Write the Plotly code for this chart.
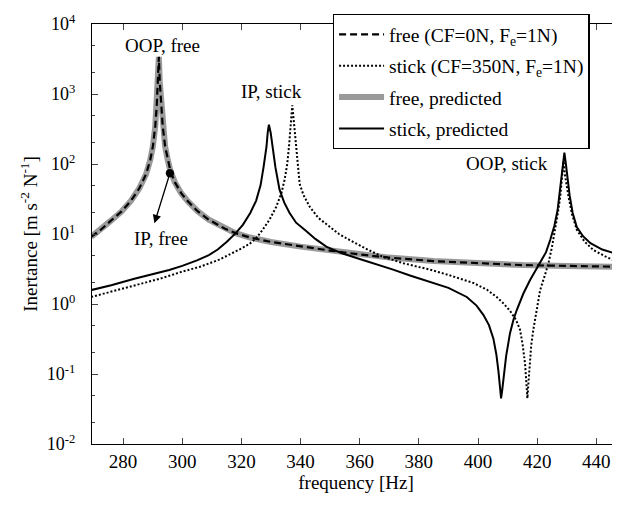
import plotly.graph_objects as go

# ---- data ----
free_f = [269.2, 272.5, 275.9, 279.5, 282.7, 285.5, 287.8, 289.2, 290.1, 290.9, 291.4, 291.8, 292.1,
          292.4, 292.9, 293.4, 294.2, 295.1, 296.0, 297.5, 299.7, 302.0, 305.3, 309.0, 314.3, 318.0,
          323.0, 330.0, 340.0, 350.0, 360.0, 370.0, 385.0, 400.0, 415.0, 430.0, 448.0]
free_v = [9.1, 11.5, 15.5, 21, 30, 45, 72, 115, 180, 350, 700, 1500, 3400,
          1500, 700, 350, 180, 115, 80, 55, 38, 29, 21, 16, 12, 10.3,
          8.9, 7.7, 6.6, 5.8, 5.1, 4.6, 4.1, 3.8, 3.6, 3.5, 3.4]

stick_pred_f = [269.2, 276.0, 283.8, 290.0, 295.6, 300.0, 305.0, 309.0, 312.0, 315.0, 318.0, 320.5,
                323.0, 325.0, 326.5, 327.5, 328.5, 328.9, 329.3, 329.9, 330.6, 331.5, 332.9, 334.5,
                336.3, 338.5, 341.9, 345.0, 348.7, 354.0, 360.0, 366.0, 371.3, 377.0, 383.7, 390.0,
                396.2, 399.5, 401.8, 403.7, 405.2, 406.2, 406.9, 407.5, 407.8, 408.2, 408.7, 409.5,
                410.8, 412.0, 413.1, 415.3, 417.6, 419.5, 421.0, 423.0, 424.4, 425.8, 426.9, 427.7,
                428.3, 428.8, 429.2, 429.7, 430.3, 431.0, 432.0, 433.4, 435.5, 438.0, 442.0, 448.0]
stick_pred_v = [1.58, 1.85, 2.3, 2.65, 3.06, 3.5, 4.2, 5.0, 6.0, 7.7, 10.2, 13.5,
                20, 30, 50, 90, 178, 280, 365, 280, 178, 90, 43, 28,
                20, 14.5, 11, 8.5, 6.6, 5.3, 4.4, 3.7, 3.1, 2.55, 2.09, 1.7,
                1.26, 0.95, 0.70, 0.5, 0.32, 0.19, 0.11, 0.06, 0.045, 0.06, 0.1, 0.18,
                0.38, 0.6, 0.82, 1.4, 2.2, 3.0, 3.8, 5.5, 8.2, 13, 22, 40,
                70, 110, 145, 100, 60, 35, 20, 12.6, 9.3, 7.4, 6.0, 5.0]

stick_meas_f = [269.2, 276.0, 283.0, 292.5, 300.0, 306.0, 312.5, 317.0, 320.0, 322.7, 325.0, 327.2,
                329.5, 331.8, 333.5, 334.6, 335.5, 336.1, 336.7, 337.2, 337.8, 338.5, 339.0, 339.7,
                341.0, 343.1, 346.0, 349.8, 353.0, 356.6, 362.0, 367.9, 375.0, 383.7, 390.0, 398.4,
                403.0, 406.3, 408.8, 410.8, 412.8, 414.2, 415.1, 415.9, 416.4, 416.7, 417.0, 417.4,
                418.0, 418.7, 419.8, 421.0, 422.5, 423.8, 425.0, 426.1, 427.0, 427.8, 428.4, 428.9,
                429.4, 430.0, 430.6, 431.8, 433.4, 436.0, 439.0, 443.0, 448.0]
stick_meas_v = [1.26, 1.5, 1.8, 2.3, 2.9, 3.4, 4.3, 5.3, 6.2, 7.2, 8.7, 11.5,
                16, 24.5, 38, 59, 100, 178, 380, 690, 380, 178, 95, 52,
                36, 24.5, 17, 12.6, 10, 8.2, 6.2, 4.7, 3.8, 3.1, 2.6, 2.0,
                1.6, 1.26, 1.0, 0.8, 0.6, 0.43, 0.26, 0.14, 0.07, 0.045, 0.07, 0.14,
                0.26, 0.43, 0.85, 1.58, 2.5, 3.8, 6.5, 11.5, 20, 34, 65, 110,
                70, 48, 34, 19, 11.5, 7.8, 5.9, 4.8, 3.8]

x_ticks = [280, 300, 320, 340, 360, 380, 400, 420, 440]
y_ticks = [0.01, 0.1, 1, 10, 100, 1000, 10000]
y_ticktext = ["10<sup>-2</sup>", "10<sup>-1</sup>", "10<sup>0</sup>", "10<sup>1</sup>",
              "10<sup>2</sup>", "10<sup>3</sup>", "10<sup>4</sup>"]

FONT = "Liberation Serif, Times New Roman, Times, serif"

fig = go.Figure()
fig.add_trace(go.Scatter(x=free_f, y=free_v, mode="lines", name="free, predicted",
                         line=dict(color="#9a9a9a", width=6), legendrank=3, legendgroup="c"))
fig.add_trace(go.Scatter(x=free_f, y=free_v, mode="lines", name="free (CF=0N, F<sub>e</sub>=1N)",
                         line=dict(color="black", width=2.2, dash="7px,4px"), legendrank=1, legendgroup="a"))
fig.add_trace(go.Scatter(x=stick_meas_f, y=stick_meas_v, mode="lines",
                         name="stick (CF=350N, F<sub>e</sub>=1N)",
                         line=dict(color="black", width=2, dash="2px,2px"), legendrank=2, legendgroup="b"))
fig.add_trace(go.Scatter(x=stick_pred_f, y=stick_pred_v, mode="lines", name="stick, predicted",
                         line=dict(color="black", width=2), legendrank=4, legendgroup="d"))

ann_font = dict(family=FONT, size=19, color="black")
fig.add_annotation(x=293.2, y=3.7, text="OOP, free", showarrow=False, font=ann_font, xref="x", yref="y")
fig.add_annotation(x=330.2, y=3.03, text="IP, stick", showarrow=False, font=ann_font, xref="x", yref="y")
fig.add_annotation(x=292.9, y=0.94, text="IP, free", showarrow=False, font=ann_font, xref="x", yref="y")
fig.add_annotation(x=409.8, y=2.01, text="OOP, stick", showarrow=False, font=ann_font, xref="x", yref="y")
fig.add_annotation(x=290.6, y=1.153, ax=296.0, ay=1.89, axref="x", ayref="y", xref="x", yref="y",
                   text="", showarrow=True, arrowhead=2, arrowsize=1.3, arrowwidth=1.3,
                   arrowside="end+start", startarrowhead=6, startarrowsize=1.6, arrowcolor="black")

# page body has an 8px default margin, so the figure is sized/offset to compensate
fig.update_layout(
    width=612, height=502,
    margin=dict(l=84, r=0, t=16, b=66),
    paper_bgcolor="white", plot_bgcolor="white",
    font=dict(family=FONT, size=18, color="black"),
    showlegend=True,
    legend=dict(x=0.456, y=1.024, xanchor="left", yanchor="top",
                bgcolor="white", bordercolor="black", borderwidth=1.3,
                font=dict(family=FONT, size=19.5), tracegroupgap=3, itemwidth=45),
)
fig.update_xaxes(range=[269.5, 448], tickvals=x_ticks, ticks="inside", ticklen=6,
                 showline=True, linecolor="black", linewidth=1.3, mirror="ticks",
                 showgrid=False, zeroline=False, automargin=False,
                 title=dict(text="frequency [Hz]", font=dict(family=FONT, size=19), standoff=4),
                 tickfont=dict(family=FONT, size=19))
fig.update_yaxes(type="log", range=[-2, 4], tickvals=y_ticks, ticktext=y_ticktext,
                 ticks="inside", ticklen=6, showline=True, linecolor="black", linewidth=1.3,
                 mirror=False, showgrid=False, zeroline=False, automargin=False,
                 minor=dict(ticks="inside", ticklen=3, showgrid=False),
                 ticklabelstandoff=12,
                 title=dict(text="Inertance [m s<sup>-2</sup> N<sup>-1</sup>]",
                            font=dict(family=FONT, size=19), standoff=4),
                 tickfont=dict(family=FONT, size=18))

fig.write_html("out.html")
